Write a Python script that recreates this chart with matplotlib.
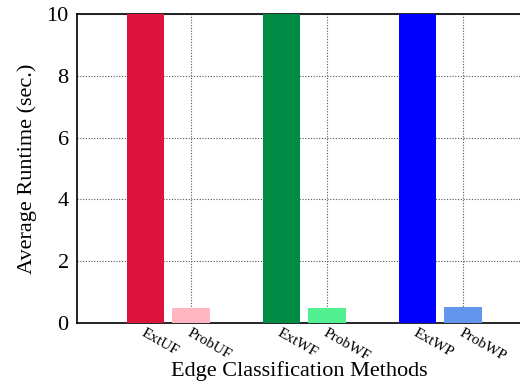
import matplotlib.pyplot as plt

# Average runtime per edge classification method
methods = ["ExtUF", "ProbUF", "ExtWF", "ProbWF", "ExtWP", "ProbWP"]
positions = [0, 1, 3, 4, 6, 7]
runtimes = [25.0, 0.47, 25.0, 0.47, 25.0, 0.50]
colors = ["#DC143C", "#FFB6C1", "#008B45", "#50F090", "#0000FF", "#6495ED"]

plt.rcParams["font.family"] = ["Liberation Serif", "DejaVu Serif"]

fig = plt.figure(figsize=(5.2, 3.83), dpi=100)
ax = fig.add_axes([0.148, 0.157, 0.855, 0.806])

ax.bar(positions, runtimes, width=0.82, color=colors, zorder=3)

ax.set_xlim(-1.517, 8.29)
ax.set_ylim(0, 10)
ax.set_yticks([0, 2, 4, 6, 8, 10])
ax.set_xticks([1, 4, 7])
ax.set_xticklabels([])
ax.tick_params(axis="x", length=0)
ax.tick_params(axis="y", length=0, labelsize=16, pad=6)
ax.grid(True, linestyle=(0, (1, 1.5)), color="#555555", linewidth=0.8, zorder=0)
ax.spines["right"].set_visible(False)
for s in ["left", "top", "bottom"]:
    ax.spines[s].set_linewidth(1.2)

for x, name in zip(positions, methods):
    ax.text(x, -0.1, name, rotation=-30, ha="left", va="top",
            rotation_mode="anchor", fontsize=11)

ax.set_ylabel("Average Runtime (sec.)", fontsize=16, labelpad=7)
ax.set_xlabel("Edge Classification Methods", fontsize=16)
ax.xaxis.set_label_coords(0.5, -0.125)

fig.savefig("out.png", dpi=100)
